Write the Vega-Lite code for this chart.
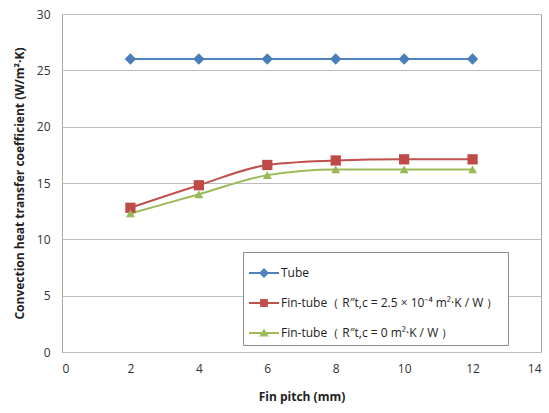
{
  "$schema": "https://vega.github.io/schema/vega-lite/v6.json",
  "width": 479,
  "height": 338,
  "autosize": {"type": "none"},
  "padding": {"left": 62, "top": 14, "right": 8, "bottom": 61},
  "background": "white",
  "config": {
    "font": "Open Sans",
    "view": {"stroke": "#A6A6A6", "strokeWidth": 1},
    "axis": {
      "labelFont": "Open Sans", "labelFontSize": 12, "labelColor": "#333333",
      "titleFont": "Open Sans", "titleFontSize": 12, "titleFontWeight": "bold", "titleColor": "#222222",
      "ticks": false, "domain": false
    }
  },
  "data": {
    "values": [
      {"pitch": 2, "h": 26.0, "series": "Tube"},
      {"pitch": 4, "h": 26.0, "series": "Tube"},
      {"pitch": 6, "h": 26.0, "series": "Tube"},
      {"pitch": 8, "h": 26.0, "series": "Tube"},
      {"pitch": 10, "h": 26.0, "series": "Tube"},
      {"pitch": 12, "h": 26.0, "series": "Tube"},
      {"pitch": 2, "h": 12.8, "series": "Fin-tube（ R″t,c = 2.5 × 10⁻⁴  m²·K / W ）"},
      {"pitch": 4, "h": 14.8, "series": "Fin-tube（ R″t,c = 2.5 × 10⁻⁴  m²·K / W ）"},
      {"pitch": 6, "h": 16.6, "series": "Fin-tube（ R″t,c = 2.5 × 10⁻⁴  m²·K / W ）"},
      {"pitch": 8, "h": 17.0, "series": "Fin-tube（ R″t,c = 2.5 × 10⁻⁴  m²·K / W ）"},
      {"pitch": 10, "h": 17.1, "series": "Fin-tube（ R″t,c = 2.5 × 10⁻⁴  m²·K / W ）"},
      {"pitch": 12, "h": 17.1, "series": "Fin-tube（ R″t,c = 2.5 × 10⁻⁴  m²·K / W ）"},
      {"pitch": 2, "h": 12.3, "series": "Fin-tube（ R″t,c = 0  m²·K / W ）"},
      {"pitch": 4, "h": 14.0, "series": "Fin-tube（ R″t,c = 0  m²·K / W ）"},
      {"pitch": 6, "h": 15.7, "series": "Fin-tube（ R″t,c = 0  m²·K / W ）"},
      {"pitch": 8, "h": 16.2, "series": "Fin-tube（ R″t,c = 0  m²·K / W ）"},
      {"pitch": 10, "h": 16.2, "series": "Fin-tube（ R″t,c = 0  m²·K / W ）"},
      {"pitch": 12, "h": 16.2, "series": "Fin-tube（ R″t,c = 0  m²·K / W ）"}
    ]
  },
  "encoding": {
    "x": {
      "field": "pitch", "type": "quantitative",
      "scale": {"domain": [0, 14], "nice": false},
      "axis": {"values": [0, 2, 4, 6, 8, 10, 12, 14], "grid": false, "title": "Fin pitch (mm)", "labelPadding": 11, "titlePadding": 17}
    },
    "y": {
      "field": "h", "type": "quantitative",
      "scale": {"domain": [0, 30], "nice": false},
      "axis": {"values": [0, 5, 10, 15, 20, 25, 30], "grid": true, "gridColor": "#BDBDBD", "title": "Convection heat transfer coefficient (W/m²·K)", "labelPadding": 12, "titlePadding": 10}
    }
  },
  "layer": [
    {
      "mark": {"type": "line", "interpolate": "monotone", "strokeWidth": 2},
      "encoding": {
        "color": {"field": "series", "type": "nominal", "sort": null,
          "scale": {"range": ["#4F81BD", "#C0504D", "#9BBB59"]}, "legend": null}
      }
    },
    {
      "mark": {"type": "point", "filled": true, "opacity": 1},
      "encoding": {
        "color": {"field": "series", "type": "nominal", "sort": null,
          "scale": {"range": ["#4A7EBB", "#BE4B48", "#98B954"]}, "legend": null},
        "shape": {"field": "series", "type": "nominal", "sort": null,
          "scale": {"range": ["diamond", "square", "triangle-up"]}, "legend": null},
        "size": {"field": "series", "type": "nominal", "sort": null,
          "scale": {"range": [130, 80, 100]}, "legend": null}
      }
    },
    {
      "mark": {"type": "point", "filled": true, "opacity": 0},
      "encoding": {
        "color": {"field": "series", "type": "nominal", "sort": null,
          "scale": {"range": ["#4F81BD", "#C0504D", "#9BBB59"]},
          "legend": {
            "title": null, "orient": "none", "legendX": 181, "legendY": 238,
            "symbolOpacity": 1, "symbolSize": 900, "symbolStrokeWidth": 0,
            "labelFont": "Open Sans", "labelFontSize": 12, "labelColor": "#222222", "labelLimit": 320,
            "rowPadding": 9, "padding": 6, "strokeColor": "#8C8C8C", "fillColor": "white",
            "labelOffset": 2,
            "encode": {"symbols": {"update": {"opacity": {"value": 1}, "fillOpacity": {"value": 1}, "strokeOpacity": {"value": 1}}}}
          }},
        "shape": {"field": "series", "type": "nominal", "sort": null,
          "scale": {"range": [
            "M-1,-0.065L1,-0.065L1,0.065L-1,0.065Z M0,-0.33L0.33,0L0,0.33L-0.33,0Z",
            "M-1,-0.065L1,-0.065L1,0.065L-1,0.065Z M-0.26,-0.26L0.26,-0.26L0.26,0.26L-0.26,0.26Z",
            "M-1,-0.065L1,-0.065L1,0.065L-1,0.065Z M0,-0.3L0.32,0.24L-0.32,0.24Z"
          ]}},
        "size": {"value": 90}
      }
    }
  ],
  "resolve": {"scale": {"color": "independent", "shape": "independent", "size": "independent"}}
}
